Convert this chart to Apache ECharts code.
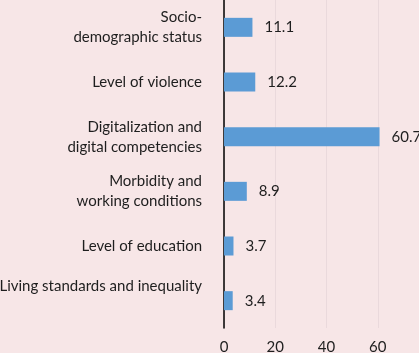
<!DOCTYPE html>
<html>
<head>
<meta charset="utf-8">
<script src="https://cdn.jsdelivr.net/npm/echarts@6/dist/echarts.min.js"></script>
<style>
  html, body { margin: 0; padding: 0; background: #f7e6e7; }
  #chart { width: 419px; height: 353px; }
</style>
</head>
<body>
<div id="chart"></div>
<script>
// categories top to bottom as shown
const categories = [
  'Socio-\ndemographic status',
  'Level of violence',
  'Digitalization and\ndigital competencies',
  'Morbidity and\nworking conditions',
  'Level of education',
  'Living standards and inequality'
]
const values = [11.1, 12.2, 60.7, 8.9, 3.7, 3.4]
const xTicks = [0, 20, 40, 60, 80]

const chart = echarts.init(document.getElementById('chart'))
const font = 'Lato, "Open Sans", sans-serif'

const option = {
  backgroundColor: '#f7e6e7',
  animation: false,
  grid: { left: 224, right: -10, top: 0, bottom: 25, outerBoundsMode: 'none', containLabel: false },
  xAxis: {
    type: 'value',
    min: xTicks[0],
    max: xTicks[xTicks.length - 1],
    interval: 20,
    axisLine: { show: false },
    axisTick: { show: false },
    splitLine: { show: true, lineStyle: { color: '#ead9dc', width: 1 } },
    axisLabel: { color: '#1e1e1e', fontFamily: font, fontSize: 15, margin: 12, hideOverlap: false }
  },
  yAxis: {
    type: 'category',
    inverse: true,
    data: categories,
    axisLine: { show: true, lineStyle: { color: '#000', width: 1.5 } },
    axisTick: { show: false },
    axisLabel: {
      color: '#1e1e1e',
      fontFamily: font,
      fontSize: 15,
      lineHeight: 20,
      margin: 22,
      align: 'right',
      formatter: (v, i) => i === 5 ? '{up|' + v + '}' : v,
      rich: { up: { fontFamily: font, fontSize: 15, color: '#1e1e1e', padding: [0, 0, 30, 0] } }
    }
  },
  series: [{
    type: 'bar',
    data: values,
    barWidth: 19,
    itemStyle: { color: '#5b9bd5' },
    label: {
      show: true,
      position: 'right',
      distance: 12,
      color: '#1e1e1e',
      fontFamily: font,
      fontSize: 15
    }
  }]
}

chart.setOption(option)
</script>
</body>
</html>
